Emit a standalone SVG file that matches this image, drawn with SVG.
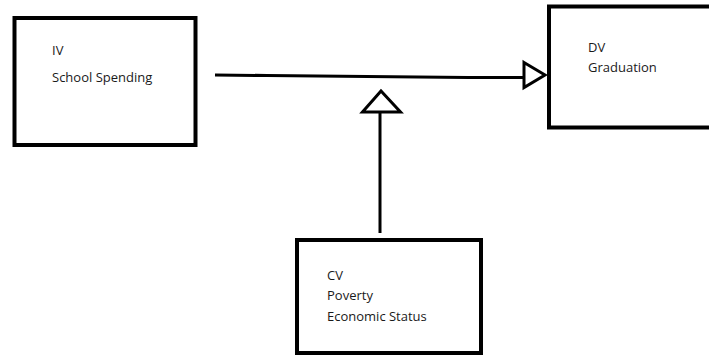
<svg xmlns="http://www.w3.org/2000/svg" width="709" height="358" viewBox="0 0 709 358">
<style>
.box{fill:#fff;stroke:#000;stroke-width:4}
.lbl{font-family:"Open Sans","Liberation Sans",sans-serif;font-size:13px;fill:#1a1a1a}
.ln{fill:none;stroke:#000;stroke-width:3}
.head{fill:#fff;stroke:#000;stroke-width:3;stroke-linejoin:miter}
</style>
<rect width="709" height="358" fill="#fff"/>
<g id="iv">
<rect class="box" x="14.5" y="18" width="181" height="127"/>
<text class="lbl" x="52" y="55">IV</text>
<text class="lbl" x="52" y="82">School Spending</text>
</g>
<g id="dv">
<rect class="box" x="549" y="6.5" width="170" height="121"/>
<text class="lbl" x="588" y="52">DV</text>
<text class="lbl" x="588" y="72">Graduation</text>
</g>
<g id="cv">
<rect class="box" x="297" y="240" width="184" height="113"/>
<text class="lbl" x="327" y="280">CV</text>
<text class="lbl" x="327" y="300">Poverty</text>
<text class="lbl" x="327" y="321">Economic Status</text>
</g>
<g id="connectors">
<path class="ln" d="M215 75 L267 75.5 L367 76.5 L468 77.5 L523 77.5"/>
<polygon class="head" points="524,62.5 545,75 524,87.5"/>
<path class="ln" d="M380 233 L380 113"/>
<polygon class="head" points="362.5,112 381,91 400.5,112"/>
</g>
</svg>
